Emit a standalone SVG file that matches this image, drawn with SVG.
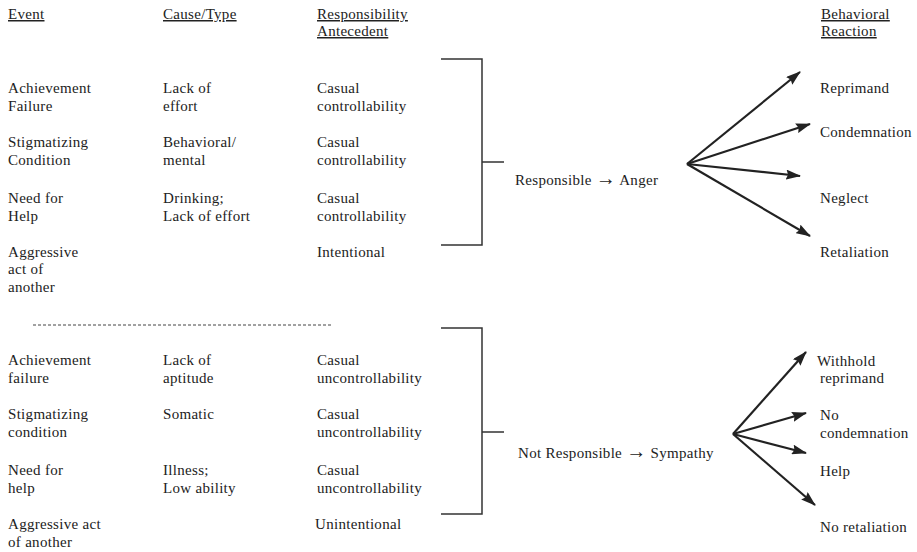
<svg xmlns="http://www.w3.org/2000/svg" width="917" height="552" viewBox="0 0 917 552">
  <style>
    text { font-family: "Liberation Serif", "Times New Roman", serif; font-size: 15px; letter-spacing: 0.3px; fill: #222; }
    .hd { text-decoration: underline; }
    .sym { font-size: 20px; }
    .br { fill: none; stroke: #333; stroke-width: 1.5; }
    .ar { fill: none; stroke: #222; stroke-width: 2.2; marker-end: url(#tip); }
    .dash { stroke: #444; stroke-width: 1; stroke-dasharray: 3 2; }
  </style>
  <defs>
    <marker id="tip" viewBox="0 0 15 10" refX="14" refY="5" markerWidth="15" markerHeight="10" markerUnits="userSpaceOnUse" orient="auto">
      <path d="M0,0 L15,5 L0,10 L2,5 Z" fill="#222"/>
    </marker>
  </defs>
  <rect width="917" height="552" fill="#fff"/>

  <!-- column headings -->
  <g id="headings">
    <text class="hd" x="8" y="19">Event</text>
    <text class="hd" x="163" y="19">Cause/Type</text>
    <text class="hd" x="317" y="19">Responsibility</text>
    <text class="hd" x="317" y="36">Antecedent</text>
    <text class="hd" x="821" y="19">Behavioral</text>
    <text class="hd" x="821" y="36">Reaction</text>
  </g>

  <!-- responsible cases -->
  <g id="row-achievement">
    <text x="8" y="93">Achievement</text><text x="8" y="111">Failure</text>
    <text x="163" y="93">Lack of</text><text x="163" y="111">effort</text>
    <text x="317" y="93">Casual</text><text x="317" y="111">controllability</text>
  </g>
  <g id="row-stigma">
    <text x="8" y="147">Stigmatizing</text><text x="8" y="165">Condition</text>
    <text x="163" y="147">Behavioral/</text><text x="163" y="165">mental</text>
    <text x="317" y="147">Casual</text><text x="317" y="165">controllability</text>
  </g>
  <g id="row-need">
    <text x="8" y="203">Need for</text><text x="8" y="221">Help</text>
    <text x="163" y="203">Drinking;</text><text x="163" y="221">Lack of effort</text>
    <text x="317" y="203">Casual</text><text x="317" y="221">controllability</text>
  </g>
  <g id="row-aggression">
    <text x="8" y="257">Aggressive</text><text x="8" y="274">act of</text><text x="8" y="292">another</text>
    <text x="317" y="257">Intentional</text>
  </g>

  <!-- separator -->
  <g id="separator">
    <line class="dash" x1="33" y1="325" x2="333" y2="325"/>
  </g>

  <!-- not responsible cases -->
  <g id="row-achievement-2">
    <text x="8" y="365">Achievement</text><text x="8" y="383">failure</text>
    <text x="163" y="365">Lack of</text><text x="163" y="383">aptitude</text>
    <text x="317" y="365">Casual</text><text x="317" y="383">uncontrollability</text>
  </g>
  <g id="row-stigma-2">
    <text x="8" y="419">Stigmatizing</text><text x="8" y="437">condition</text>
    <text x="163" y="419">Somatic</text>
    <text x="317" y="419">Casual</text><text x="317" y="437">uncontrollability</text>
  </g>
  <g id="row-need-2">
    <text x="8" y="475">Need for</text><text x="8" y="493">help</text>
    <text x="163" y="475">Illness;</text><text x="163" y="493">Low ability</text>
    <text x="317" y="475">Casual</text><text x="317" y="493">uncontrollability</text>
  </g>
  <g id="row-aggression-2">
    <text x="8" y="529">Aggressive act</text><text x="8" y="547">of another</text>
    <text x="315" y="529">Unintentional</text>
  </g>

  <!-- appraisal nodes -->
  <g id="anger">
    <text x="515" y="185">Responsible <tspan class="sym">→</tspan> Anger</text>
  </g>
  <g id="sympathy">
    <text x="518" y="458">Not Responsible <tspan class="sym">→</tspan> Sympathy</text>
  </g>

  <!-- reactions -->
  <g id="reprimand"><text x="820" y="93">Reprimand</text></g>
  <g id="condemnation"><text x="820" y="137">Condemnation</text></g>
  <g id="neglect"><text x="820" y="203">Neglect</text></g>
  <g id="retaliation"><text x="820" y="257">Retaliation</text></g>
  <g id="withhold"><text x="817" y="366">Withhold</text><text x="820" y="383">reprimand</text></g>
  <g id="no-condemnation"><text x="820" y="420">No</text><text x="820" y="438">condemnation</text></g>
  <g id="help"><text x="820" y="476">Help</text></g>
  <g id="no-retaliation"><text x="820" y="532">No retaliation</text></g>

  <!-- brackets and arrows -->
  <g id="connectors">
    <path class="br" d="M441,59 H482 V245 H441 M482,162 H504"/>
    <path class="br" d="M441,328 H482 V514 H441 M482,432 H504"/>
    <line class="ar" x1="687" y1="164" x2="800" y2="72"/>
    <line class="ar" x1="687" y1="164" x2="810" y2="124"/>
    <line class="ar" x1="687" y1="164" x2="800" y2="176"/>
    <line class="ar" x1="687" y1="164" x2="810" y2="236"/>
    <line class="ar" x1="733" y1="434" x2="806" y2="352"/>
    <line class="ar" x1="733" y1="434" x2="806" y2="413"/>
    <line class="ar" x1="733" y1="434" x2="806" y2="453"/>
    <line class="ar" x1="733" y1="434" x2="815" y2="505"/>
  </g>
</svg>
